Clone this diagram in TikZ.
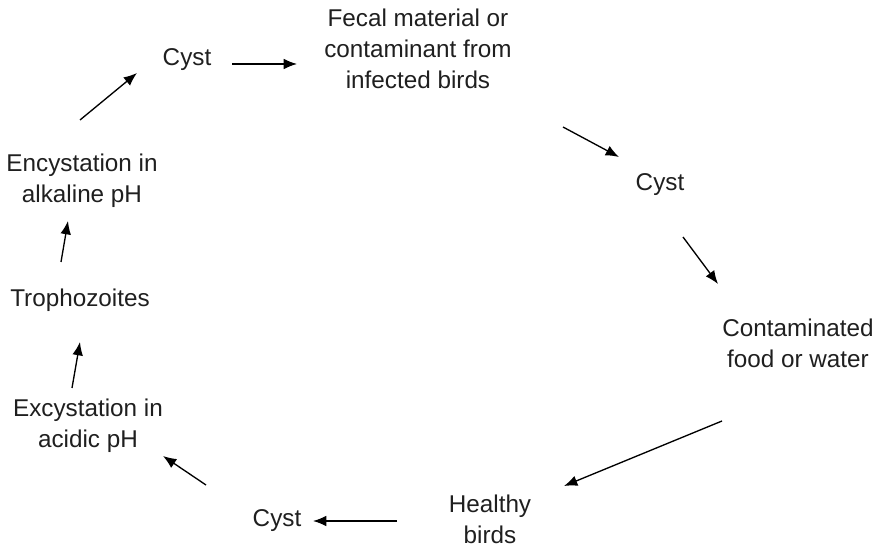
\documentclass[tikz,border=0pt]{standalone}
\usepackage{fontspec}
\setmainfont{Liberation Sans}
\usetikzlibrary{arrows.meta}
\begin{document}
\begin{tikzpicture}[x=0.75pt,y=-0.75pt,
  lbl/.style={align=center,inner sep=0pt,font=\fontsize{18.2}{23.25}\selectfont,text=black!88},
  arr/.style={line width=1pt,-{Latex[length=10pt,width=8pt]}}]
\useasboundingbox (0,0) rectangle (882,555);
% nodes
\node[lbl] (cysttop) at (187,60) {Cyst};
\node[lbl] (fecal) at (418,49) {Fecal material or\\contaminant from\\infected birds};
\node[lbl] (cystright) at (660,185) {Cyst};
\node[lbl] (contam) at (798,343) {Contaminated\\food or water};
\node[lbl] (healthy) at (490,519) {Healthy\\birds};
\node[lbl] (cystbot) at (277,521) {Cyst};
\node[lbl] (excyst) at (88,426) {Excystation in\\acidic pH};
\node[lbl] (tropho) at (80,300) {Trophozoites};
\node[lbl] (encyst) at (82,181) {Encystation in\\alkaline pH};
% arrow end points
\coordinate (a1s) at (232,64); \coordinate (a1e) at (297,64);
\coordinate (a2s) at (563,127); \coordinate (a2e) at (619,157);
\coordinate (a3s) at (683,237); \coordinate (a3e) at (718,284);
\coordinate (a4s) at (722,421); \coordinate (a4e) at (564,486);
\coordinate (a5s) at (397,521); \coordinate (a5e) at (313,521);
\coordinate (a6s) at (206,485); \coordinate (a6e) at (163,456);
\coordinate (a7s) at (72,388); \coordinate (a7e) at (80,342);
\coordinate (a8s) at (61,262); \coordinate (a8e) at (68,221);
\coordinate (a9s) at (80,120); \coordinate (a9e) at (137,73);
% connectors
\draw[arr] (a1s) -- (a1e);
\draw[arr] (a2s) -- (a2e);
\draw[arr] (a3s) -- (a3e);
\draw[arr] (a4s) -- (a4e);
\draw[arr] (a5s) -- (a5e);
\draw[arr] (a6s) -- (a6e);
\draw[arr] (a7s) -- (a7e);
\draw[arr] (a8s) -- (a8e);
\draw[arr] (a9s) -- (a9e);
\end{tikzpicture}
\end{document}
